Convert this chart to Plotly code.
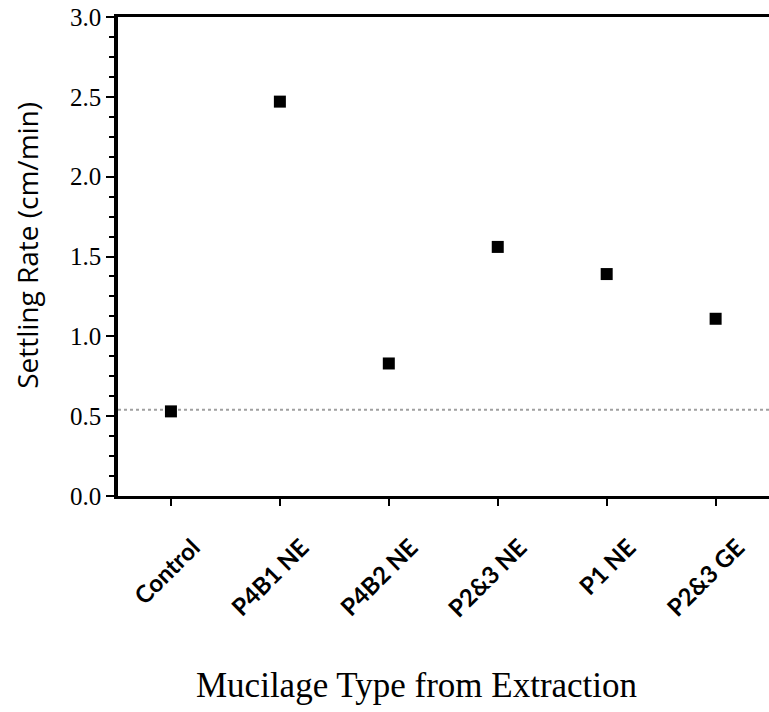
import plotly.graph_objects as go

# Settling rate of each mucilage extraction
categories = ["Control", "P4B1 NE", "P4B2 NE", "P2&3 NE", "P1 NE", "P2&3 GE"]
settling_rate = [0.53, 2.47, 0.83, 1.56, 1.39, 1.11]
control_level = 0.54  # baseline settling rate without mucilage

y_ticks = [0.0, 0.5, 1.0, 1.5, 2.0, 2.5, 3.0]
y_tick_text = ["0.0", "0.5", "1.0", "1.5", "2.0", "2.5", "3.0"]

x_title = "Mucilage Type from Extraction"
y_title = "Settling Rate (cm/min)"

fig = go.Figure()

fig.add_hline(
    y=control_level,
    line=dict(color="#a0a0a0", width=2, dash="dot"),
    layer="below",
)

fig.add_trace(
    go.Scatter(
        x=list(range(len(categories))),
        y=settling_rate,
        mode="markers",
        marker=dict(symbol="square", size=12, color="black"),
        showlegend=False,
        cliponaxis=False,
    )
)

# axis titles as free annotations so they can sit off-centre
fig.add_annotation(
    text=x_title,
    xref="paper", yref="paper",
    x=0.458, y=-0.395,
    xanchor="center", yanchor="middle",
    showarrow=False,
    font=dict(family="Liberation Serif", size=35, color="black"),
)
fig.add_annotation(
    text=y_title,
    xref="paper", yref="paper",
    x=-0.140, y=0.524,
    xanchor="center", yanchor="middle",
    textangle=-90,
    showarrow=False,
    font=dict(family="Open Sans", size=28, color="black"),
)

fig.update_layout(
    width=769,
    height=712,
    margin=dict(l=118, r=0, t=17, b=216),
    paper_bgcolor="white",
    plot_bgcolor="white",
    xaxis=dict(
        range=[-0.486, 5.49],
        tickmode="array",
        tickvals=list(range(len(categories))),
        ticktext=categories,
        tickangle=-45,
        ticks="outside",
        ticklen=7,
        tickwidth=2,
        tickcolor="black",
        ticklabelstandoff=18,
        ticklabelshift=22,
        tickfont=dict(family="Lato", size=24, color="black", weight="bold"),
        showline=True,
        linecolor="black",
        linewidth=3,
        mirror=True,
        showgrid=False,
        zeroline=False,
    ),
    yaxis=dict(
        range=[0, 3.0],
        tickmode="array",
        tickvals=y_ticks,
        ticktext=y_tick_text,
        ticks="outside",
        ticklen=8,
        tickwidth=2,
        tickcolor="black",
        minor=dict(dtick=0.125, ticks="outside", ticklen=5, tickwidth=2, tickcolor="black"),
        tickfont=dict(family="Liberation Serif", size=25, color="black"),
        showline=True,
        linecolor="black",
        linewidth=3.5,
        showgrid=False,
        zeroline=False,
    ),
)

fig.write_html("out.html")
